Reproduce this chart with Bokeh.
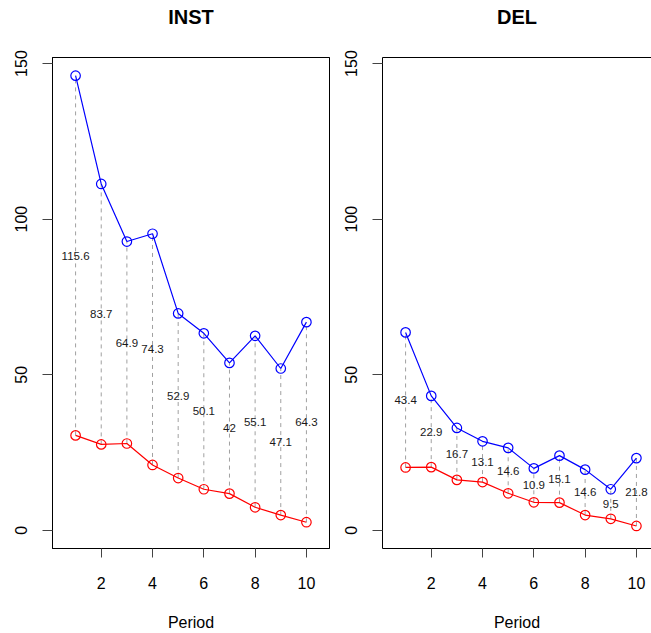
from bokeh.plotting import figure
from bokeh.layouts import row
from bokeh.models import ColumnDataSource, FixedTicker, Range1d, LinearAxis
from bokeh.core.properties import value
from bokeh.embed import file_html
from bokeh.resources import INLINE

# ---- data ----
period = [1, 2, 3, 4, 5, 6, 7, 8, 9, 10]
inst_blue = [146.1, 111.3, 92.8, 95.3, 69.7, 63.3, 53.8, 62.5, 52.0, 66.9]
inst_red = [30.5, 27.6, 27.9, 21.0, 16.8, 13.2, 11.8, 7.4, 4.9, 2.6]
del_blue = [63.6, 43.2, 32.9, 28.6, 26.5, 19.9, 24.0, 19.5, 13.2, 23.2]
del_red = [20.2, 20.3, 16.2, 15.5, 11.9, 9.0, 8.9, 4.9, 3.7, 1.4]
y_ticks = [0, 50, 100, 150]
x_ticks = [2, 4, 6, 8, 10]
titles = ["INST", "DEL"]

FONT = "Liberation Sans"
YMAX = max(inst_blue)
Y0 = 0 - 0.04 * YMAX
Y1 = YMAX + 0.04 * YMAX


def fmt(d):
    d = round(d, 1)
    return f"{d:g}"


def panel(title, blue, red, width, xend, right_border, outline):
    p = figure(width=width, height=633, output_backend="svg", toolbar_location=None,
               x_range=Range1d(0.1, xend), y_range=Range1d(Y0, Y1),
               min_border_left=52, min_border_right=right_border,
               min_border_top=57, min_border_bottom=84)
    p.grid.visible = False
    p.outline_line_color = "black" if outline else None
    p.outline_line_width = 1
    p.background_fill_color = "white"
    p.border_fill_color = "white"

    mid = [(b + r) / 2 for b, r in zip(blue, red)]
    labels = [fmt(b - r) for b, r in zip(blue, red)]
    src = ColumnDataSource(dict(x=period, b=blue, r=red, m=mid, t=labels))

    p.segment(x0="x", y0="r", x1="x", y1="b", source=src, line_color="#a0a0a0",
              line_dash="4 4", line_width=1)
    p.text(x="x", y="m", text="t", source=src, text_align="center", text_baseline="middle",
           text_font=value(FONT), text_font_size="11.5px", text_color="#1a1a1a")
    p.line(x="x", y="b", source=src, line_color="#0000ff", line_width=1.2)
    p.scatter(x="x", y="b", source=src, size=9.5, fill_color=None, line_color="#0000ff",
              line_width=1.2)
    p.line(x="x", y="r", source=src, line_color="#ff0000", line_width=1.2)
    p.scatter(x="x", y="r", source=src, size=9.5, fill_color=None, line_color="#ff0000",
              line_width=1.2)

    xa = p.below[0]
    xa.ticker = FixedTicker(ticks=x_ticks)
    xa.axis_label = "Period"
    ya = p.left[0]
    ya.ticker = FixedTicker(ticks=y_ticks)
    ya.major_label_orientation = "vertical"
    for ax in (xa, ya):
        ax.minor_tick_line_color = None
        ax.major_tick_out = 10
        ax.major_tick_in = 0
        ax.axis_line_color = "black"
        ax.major_tick_line_color = "#444444"
        ax.major_label_text_font = FONT
        ax.major_label_text_font_size = "16px"
        ax.major_label_text_color = "black"
        ax.axis_label_text_font = FONT
        ax.axis_label_text_font_size = "16px"
        ax.axis_label_text_font_style = "normal"
        ax.axis_label_text_color = "black"
    xa.major_tick_out = 9
    xa.major_label_standoff = 19
    xa.axis_label_standoff = 22
    ya.major_label_standoff = 15

    # title as label of a tick-less axis on top (also draws the top border)
    top = LinearAxis(ticker=FixedTicker(ticks=[]), axis_label=title,
                     axis_label_standoff=30, axis_label_text_font=FONT,
                     axis_label_text_font_size="20px", axis_label_text_font_style="bold",
                     axis_label_text_color="black", axis_line_color="black",
                     major_tick_line_color=None, minor_tick_line_color=None,
                     major_tick_out=0, major_tick_in=0,
                     major_label_text_font_size="0px")
    p.add_layout(top, "above")
    return p


scale = 277 / 10.8
p1 = panel(titles[0], inst_blue, inst_red, 330, 10.9, 1, True)
p2 = panel(titles[1], del_blue, del_red, 321, 0.1 + 269 / scale, 0, False)
layout = row(p1, p2)

open("out.html", "w").write(file_html(layout, INLINE))
